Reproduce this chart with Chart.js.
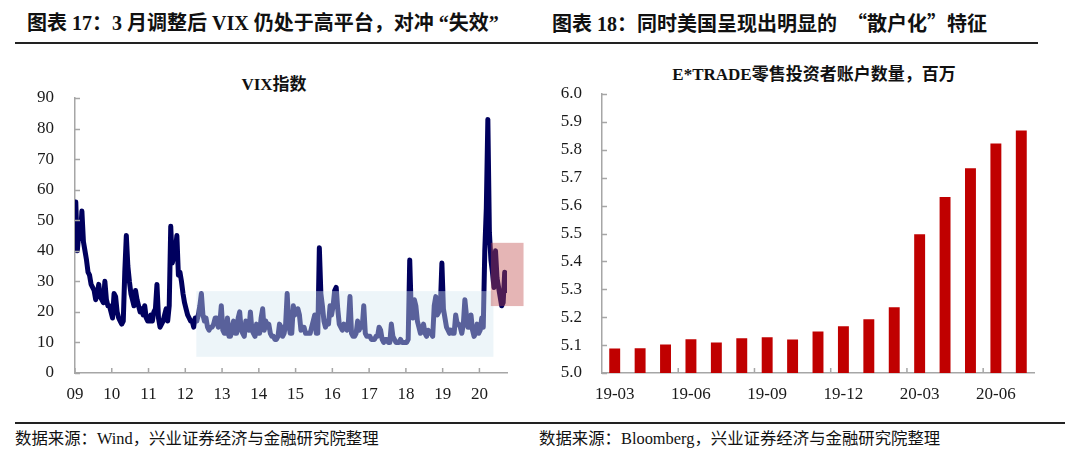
<!DOCTYPE html>
<html>
<head>
<meta charset="utf-8">
<script src="https://cdn.jsdelivr.net/npm/chart.js@4.4.1/dist/chart.umd.min.js"></script>
<style>
  html, body { margin: 0; padding: 0; background: #fff; }
  #page { position: relative; width: 1080px; height: 455px; overflow: hidden; background: #fff; }
  .hd { position: absolute; top: 13px; font: bold 20px/20px "Liberation Serif", "Noto Sans CJK SC", serif; color: #111; white-space: nowrap; }
  .cjk { font-family: "Noto Sans CJK SC", sans-serif; }
  .ttl { position: absolute; font: bold 17px/20px "Liberation Serif", "Noto Sans CJK SC", serif; color: #111; text-align: center; white-space: nowrap; }
  .src { position: absolute; top: 429px; font: 16.4px/20px "Liberation Serif", "Noto Sans CJK SC", serif; color: #111; white-space: nowrap; }
  .rule { position: absolute; height: 1.5px; background: #222; }
  canvas { position: absolute; }
</style>
</head>
<body>
<div id="page">
  <div class="hd" style="left:27px">图表 17：3 月调整后 VIX 仍处于高平台，对冲 “失效”</div>
  <div class="hd" style="left:552px">图表 18：同时美国呈现出明显的&nbsp; <span class="cjk">“</span>散户化<span class="cjk">”</span>特征</div>
  <div class="rule" style="left:15px;width:1023px;top:42px"></div>

  <div class="ttl" style="left:174px;width:200px;top:75px">VIX指数</div>
  <div class="ttl" style="left:614px;width:400px;top:65px">E*TRADE零售投资者账户数量，百万</div>

  <canvas id="vixChart" width="540" height="360" style="left:0;top:50px"></canvas>
  <canvas id="etradeChart" width="550" height="360" style="left:530px;top:50px"></canvas>

  <div class="rule" style="left:15px;width:1050px;top:422px"></div>
  <div class="src" style="left:15px">数据来源：Wind，兴业证券经济与金融研究院整理</div>
  <div class="src" style="left:539px">数据来源：Bloomberg，兴业证券经济与金融研究院整理</div>
</div>

<script>
// VIX 指数，半月取值（每年 24 个，2020 年到 9 月）
const vixYears = [2009, 2010, 2011, 2012, 2013, 2014, 2015, 2016, 2017, 2018, 2019, 2020];
const vix2009 = [56, 40, 46, 44, 53, 43, 40, 37, 33, 32, 29, 28, 27, 24, 26, 29, 25, 24, 23, 30, 24, 22, 22, 20];
const vix2010 = [18, 26, 25, 20, 18, 17, 16, 17, 33, 45, 35, 30, 26, 24, 22, 27, 24, 22, 20, 21, 19, 22, 18, 17];
const vix2011 = [17, 19, 17, 20, 21, 29, 18, 15, 16, 17, 19, 21, 17, 22, 48, 36, 38, 40, 45, 32, 33, 30, 26, 23];
const vix2012 = [21, 19, 18, 17, 17, 15, 18, 17, 19, 22, 26, 19, 17, 18, 15, 14, 15, 15, 16, 18, 18, 15, 16, 22];
const vix2013 = [14, 13, 13, 18, 12, 12, 15, 17, 13, 13, 18, 20, 14, 13, 12, 17, 16, 14, 20, 14, 13, 12, 16, 13];
const vix2014 = [13, 18, 21, 14, 17, 15, 16, 13, 12, 12, 11, 11, 12, 16, 15, 12, 13, 16, 26, 16, 13, 13, 22, 19];
const vix2015 = [20, 21, 19, 14, 15, 15, 13, 13, 13, 13, 15, 17, 19, 13, 13, 41, 26, 22, 17, 15, 17, 16, 22, 19];
const vix2016 = [22, 27, 28, 21, 16, 15, 14, 16, 15, 14, 17, 25, 13, 12, 12, 13, 17, 14, 16, 15, 22, 13, 12, 12];
const vix2017 = [12, 11, 11, 11, 12, 12, 15, 14, 11, 10, 11, 11, 10, 10, 16, 12, 11, 10, 10, 10, 11, 10, 10, 10];
const vix2018 = [10, 11, 37, 20, 18, 24, 22, 17, 15, 13, 14, 16, 13, 12, 14, 13, 13, 12, 22, 25, 19, 20, 22, 36];
const vix2019 = [21, 18, 15, 14, 13, 14, 13, 13, 19, 16, 16, 15, 13, 16, 24, 19, 15, 15, 19, 14, 12, 13, 16, 13];
const vix2020 = [14, 18, 15, 40, 54, 83, 46, 37, 33, 28, 40, 31, 28, 25, 22, 23, 33, 27];
const vixByYear = [vix2009, vix2010, vix2011, vix2012, vix2013, vix2014, vix2015, vix2016, vix2017, vix2018, vix2019, vix2020];

// 两个标注区域（横轴为年份，纵轴为 VIX）
const calmBox = { from: 2012.3, to: 2020.38, low: 5.3, high: 26.8 };
const nowBox = { from: 2020.31, to: 2021.2, low: 21.9, high: 42.6 };

// E*TRADE 零售投资者账户数量（百万）
const etradeMonths = ['19-03', '19-04', '19-05', '19-06', '19-07', '19-08', '19-09', '19-10', '19-11',
                      '19-12', '20-01', '20-02', '20-03', '20-04', '20-05', '20-06', '20-07'];
const etradeAccounts = [5.088, 5.089, 5.102, 5.121, 5.109, 5.125, 5.128, 5.120, 5.149,
                        5.168, 5.193, 5.236, 5.497, 5.631, 5.734, 5.823, 5.869];

const axisColor = '#a6a6a6';
const textColor = '#1a1a1a';
const tickFont = { family: "'Liberation Serif', serif", size: 17 };

// points semi-mensuels -> {x: année décimale, y}
const vixPoints = [];
vixYears.forEach((year, k) => {
    vixByYear[k].forEach((v, i) => vixPoints.push({ x: year + (i + 0.5) / 24, y: v }));
});

// petits traits de graduation vers l'intérieur (style Excel)
const insideTicks = {
    id: 'insideTicks',
    afterDraw(chart, args, opts) {
        const { ctx, chartArea } = chart;
        const xs = chart.scales.x, ys = chart.scales.y;
        ctx.save();
        ctx.strokeStyle = axisColor;
        ctx.lineWidth = 1.5;
        ctx.beginPath();
        ys.ticks.forEach(t => {
            const py = Math.round(ys.getPixelForValue(t.value)) + 0.5;
            ctx.moveTo(chartArea.left, py);
            ctx.lineTo(chartArea.left + 5, py);
        });
        opts.xMarks(xs).forEach(px => {
            ctx.moveTo(px, chartArea.bottom);
            ctx.lineTo(px, chartArea.bottom - 5);
        });
        ctx.stroke();
        ctx.restore();
    }
};

// zones colorées par-dessus la courbe
const boxOverlay = {
    id: 'boxOverlay',
    afterDatasetsDraw(chart) {
        const { ctx } = chart;
        const xs = chart.scales.x, ys = chart.scales.y;
        const boxes = [
            { b: calmBox, color: 'rgba(212, 232, 240, 0.42)' },
            { b: nowBox, color: 'rgba(190, 70, 70, 0.4)' }
        ];
        ctx.save();
        boxes.forEach(({ b, color }) => {
            const x0 = xs.getPixelForValue(b.from), x1 = xs.getPixelForValue(b.to);
            const y0 = ys.getPixelForValue(b.high), y1 = ys.getPixelForValue(b.low);
            ctx.fillStyle = color;
            ctx.fillRect(x0, y0, x1 - x0, y1 - y0);
        });
        ctx.restore();
    }
};

new Chart(document.getElementById('vixChart'), {
    type: 'line',
    data: {
        datasets: [{
            data: vixPoints,
            borderColor: '#00005e',
            borderWidth: 5,
            pointRadius: 0,
            tension: 0,
            borderJoinStyle: 'round',
            borderCapStyle: 'round'
        }]
    },
    options: {
        responsive: false,
        animation: false,
        events: [],
        layout: { padding: { top: 48, right: 33, bottom: 0, left: 0 } },
        plugins: {
            legend: { display: false },
            tooltip: { enabled: false },
            insideTicks: { xMarks: xs => xs.ticks.map(t => xs.getPixelForValue(t.value)) }
        },
        scales: {
            x: {
                type: 'linear',
                min: 2009,
                max: 2020.75,
                afterBuildTicks: s => { s.ticks = vixYears.map(y => ({ value: y })); },
                afterFit: s => { s.height = 37; },
                grid: { display: false, drawTicks: false },
                border: { color: axisColor, width: 1.5 },
                ticks: {
                    padding: 11,
                    maxRotation: 0,
                    autoSkip: false,
                    color: textColor,
                    font: tickFont,
                    callback: v => String(v % 100).padStart(2, '0')
                }
            },
            y: {
                min: 0,
                max: 90,
                afterFit: s => { s.width = 75; },
                grid: { display: false, drawTicks: false },
                border: { color: axisColor, width: 1.5 },
                ticks: { stepSize: 10, padding: 21, color: textColor, font: tickFont }
            }
        }
    },
    plugins: [insideTicks, boxOverlay]
});

new Chart(document.getElementById('etradeChart'), {
    type: 'bar',
    data: {
        labels: etradeMonths,
        datasets: [{
            data: etradeAccounts,
            backgroundColor: '#c00000',
            borderWidth: 0,
            barPercentage: 0.43,
            categoryPercentage: 1
        }]
    },
    options: {
        responsive: false,
        animation: false,
        events: [],
        layout: { padding: { top: 44, right: 46, bottom: 0, left: 0 } },
        plugins: {
            legend: { display: false },
            tooltip: { enabled: false },
            insideTicks: {
                xMarks: xs => [3, 6, 9, 12, 15].map(i => (xs.getPixelForValue(i - 1) + xs.getPixelForValue(i)) / 2)
            }
        },
        scales: {
            x: {
                afterFit: s => { s.height = 37; },
                grid: { display: false, drawTicks: false },
                border: { color: axisColor, width: 1.5 },
                ticks: {
                    padding: 11,
                    maxRotation: 0,
                    autoSkip: false,
                    color: textColor,
                    font: tickFont,
                    callback: function(v, i) { return i % 3 === 0 ? this.getLabelForValue(v) : ''; }
                }
            },
            y: {
                min: 5.0,
                max: 6.0,
                afterFit: s => { s.width = 72; },
                grid: { display: false, drawTicks: false },
                border: { color: axisColor, width: 1.5 },
                ticks: { stepSize: 0.1, padding: 20, color: textColor, font: tickFont, callback: v => v.toFixed(1) }
            }
        }
    },
    plugins: [insideTicks]
});
</script>
</body>
</html>
